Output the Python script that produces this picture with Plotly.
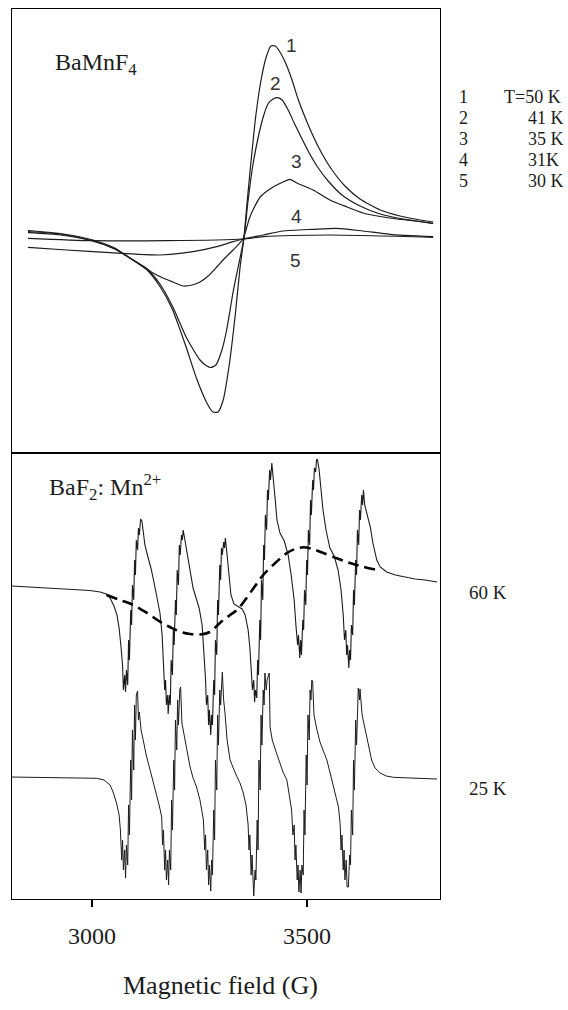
import plotly.graph_objects as go

# ---------------- Top panel: BaMnF4 ESR derivative spectra (arb. units) ----------------
field_50K = [2851, 2926, 3002, 3053, 3088, 3128, 3158, 3186, 3216, 3244, 3267, 3281, 3293, 3305, 3319,
             3333, 3344, 3353, 3360, 3370, 3381, 3393, 3405, 3416, 3426, 3437, 3451, 3465, 3479, 3495,
             3514, 3535, 3558, 3588, 3623, 3670, 3716, 3763, 3793]
sig_50K = [8, 5, -1.5, -9.5, -19.5, -31.5, -48, -70, -105, -141, -164.5, -173.5, -173.5, -161.5, -126.5,
           -76.5, -29.5, 0, 33.5, 78.5, 123.5, 158.5, 181.5, 192.5, 192.5, 186.5, 174.5, 158.5, 139.5, 121.5,
           102.5, 84.5, 68.5, 52.5, 39.5, 28.5, 22.5, 18.5, 16.5]

field_41K = [2851, 2926, 3002, 3053, 3088, 3128, 3158, 3188, 3220, 3251, 3267, 3276, 3288, 3302, 3313,
             3321, 3328, 3340, 3353, 3363, 3374, 3386, 3398, 3409, 3421, 3432, 3442, 3456, 3470, 3486,
             3505, 3526, 3549, 3581, 3623, 3670, 3716, 3763, 3793]
sig_41K = [5.8, 3.5, -2.5, -10.5, -19.5, -30.5, -45.5, -68.5, -99.5, -121.5, -127.5, -129, -126.5, -111.5, -91.5,
           -71.5, -53.5, -28, 0, 38.5, 73.5, 100.5, 121.5, 134.5, 139.5, 140.8, 138.5, 128.5, 115.5, 101.5,
           85.5, 70.5, 57.5, 43.5, 32.5, 24.5, 20, 17, 15]

field_35K = [2851, 2926, 3002, 3053, 3088, 3128, 3142, 3165, 3188, 3212, 3233, 3251, 3270, 3290, 3309,
             3328, 3351, 3367, 3391, 3421, 3444, 3460, 3476, 3514, 3553, 3593, 3630, 3670, 3709, 3751, 3793]
sig_35K = [7, 4.5, -2.5, -10.5, -19.5, -30.5, -34.5, -39.5, -43.5, -47.5, -46.5, -43.5, -37.5, -28.5, -19.5,
           -11.5, -0.5, 21.5, 41.5, 51.5, 56.5, 59.2, 55.5, 48.5, 38.5, 31.5, 25.5, 22, 19.5, 17.5, 15.2]

field_31K = [2851, 2941, 3042, 3158, 3235, 3290, 3328, 3351, 3398, 3444, 3514, 3569, 3630, 3693, 3793]
sig_31K = [-8.8, -11.5, -14.2, -16.5, -13.2, -8.2, -3.2, -0.5, 3.5, 7.5, 9.2, 10.2, 7.5, 4.2, 1.8]

field_30K = [2851, 3002, 3174, 3351, 3398, 3553, 3793]
sig_30K = [0.2, -2.2, -2.2, -0.5, 1.8, 3.5, 1.2]

curve_ids = ["1", "2", "3", "4", "5"]
curve_temps = ["T=50 K", "41 K", "35 K", "31K", "30 K"]
curve_label_field = [3464, 3426, 3476, 3476, 3474]
curve_label_sig = [193.5, 155.5, 76.8, 21.8, -21.5]

# ---------------- Bottom panel: BaF2:Mn2+ spectra (arb. units, offset) ----------------
field_60K = [2814, 2856, 2902, 2949, 2995, 3019, 3033, 3042, 3051, 3058, 3063, 3067, 3071, 3073, 3076, 3078,
             3080, 3083, 3085, 3087, 3090, 3092, 3094, 3097, 3099, 3101, 3103, 3106, 3108, 3110, 3113, 3116,
             3119, 3123, 3130, 3137, 3144, 3151, 3158, 3163, 3166, 3169, 3171, 3173, 3176, 3177, 3180, 3182,
             3184, 3187, 3189, 3191, 3194, 3196, 3198, 3201, 3203, 3205, 3208, 3210, 3212, 3216, 3221, 3228,
             3235, 3242, 3249, 3256, 3260, 3264, 3266, 3269, 3271, 3273, 3276, 3278, 3280, 3283, 3285, 3287,
             3290, 3292, 3294, 3297, 3299, 3301, 3303, 3306, 3308, 3310, 3314, 3319, 3323, 3330, 3340, 3349,
             3356, 3363, 3367, 3371, 3373, 3376, 3378, 3380, 3383, 3385, 3387, 3390, 3392, 3394, 3397, 3399,
             3401, 3403, 3406, 3408, 3410, 3413, 3415, 3418, 3421, 3426, 3430, 3437, 3447, 3456, 3463, 3470,
             3474, 3478, 3480, 3483, 3485, 3487, 3490, 3492, 3494, 3497, 3499, 3501, 3503, 3506, 3508, 3510,
             3513, 3515, 3517, 3520, 3522, 3524, 3528, 3533, 3537, 3544, 3553, 3563, 3572, 3579, 3584, 3587,
             3590, 3592, 3594, 3597, 3599, 3601, 3603, 3606, 3608, 3610, 3613, 3615, 3617, 3620, 3622, 3624,
             3627, 3629, 3631, 3634, 3637, 3642, 3647, 3653, 3662, 3670, 3685, 3705, 3728, 3751, 3774, 3802]
sig_60K = [314, 313, 312, 310.5, 309.5, 308, 306, 302, 294, 285, 272, 255, 235, 210, 225, 208,
           230, 215, 260, 240, 290, 275, 315, 300, 340, 325, 360, 350, 372, 365, 381, 379,
           368, 355, 343, 332, 318, 304, 287, 265, 240, 210, 220, 195, 205, 186, 205, 195,
           240, 225, 270, 255, 300, 285, 330, 315, 355, 345, 365, 360, 370, 360, 344, 327,
           312, 302, 292, 275, 250, 220, 195, 205, 175, 190, 165, 185, 175, 220, 205, 260,
           245, 300, 285, 335, 320, 352, 345, 358, 352, 362, 345, 325, 305, 296, 293, 291,
           285, 270, 252, 230, 210, 220, 198, 210, 202, 240, 225, 280, 260, 320, 300, 355,
           340, 385, 370, 410, 400, 430, 420, 437, 420, 400, 380, 367, 359, 345, 325, 300,
           275, 255, 265, 242, 260, 245, 280, 270, 310, 295, 340, 325, 370, 355, 400, 385,
           420, 410, 432, 428, 440, 441, 430, 410, 390, 370, 352, 344, 330, 310, 285, 260,
           270, 245, 255, 232, 250, 240, 275, 265, 310, 295, 340, 325, 370, 355, 390, 380,
           405, 395, 410, 395, 390, 382, 373, 357, 340, 333, 328, 325, 323, 321, 320, 318]

field_60K_broad = [3034, 3065, 3096, 3128, 3158, 3181, 3205, 3228, 3251, 3274, 3298, 3321, 3337, 3356,
                   3379, 3398, 3426, 3453, 3472, 3491, 3512, 3530, 3569, 3600, 3623, 3662]
sig_60K_broad = [305, 300, 295, 287, 278.3, 273, 268.3, 266, 265.5, 268, 277.3, 285, 290, 300,
                 314, 325, 337, 347, 351, 352.7, 351, 348.3, 341.7, 337, 334, 330]

field_25K = [2809, 2902, 3011, 3028, 3042, 3049, 3057, 3063, 3066, 3069, 3071, 3073, 3076, 3078, 3080, 3083,
             3085, 3087, 3090, 3092, 3094, 3097, 3099, 3101, 3103, 3106, 3108, 3110, 3114, 3119, 3126, 3135,
             3142, 3150, 3156, 3162, 3164, 3166, 3169, 3171, 3173, 3176, 3178, 3180, 3183, 3185, 3187, 3190,
             3192, 3194, 3197, 3199, 3201, 3204, 3206, 3209, 3212, 3219, 3228, 3235, 3243, 3251, 3259, 3262,
             3264, 3266, 3269, 3271, 3273, 3276, 3278, 3280, 3283, 3285, 3287, 3290, 3292, 3294, 3297, 3299,
             3301, 3303, 3306, 3309, 3314, 3321, 3333, 3344, 3351, 3358, 3363, 3365, 3367, 3370, 3372, 3374,
             3376, 3379, 3381, 3384, 3386, 3388, 3391, 3393, 3395, 3398, 3400, 3402, 3405, 3407, 3412, 3414,
             3419, 3428, 3437, 3444, 3453, 3458, 3464, 3467, 3470, 3472, 3474, 3477, 3479, 3481, 3484, 3486,
             3488, 3491, 3493, 3495, 3498, 3500, 3502, 3505, 3507, 3509, 3511, 3513, 3516, 3523, 3530, 3537,
             3546, 3553, 3561, 3567, 3573, 3577, 3579, 3581, 3584, 3586, 3588, 3591, 3593, 3596, 3599, 3601,
             3603, 3606, 3608, 3610, 3613, 3615, 3617, 3619, 3622, 3623, 3628, 3635, 3642, 3650, 3658, 3670,
             3684, 3701, 3740, 3802]
sig_25K = [123, 122.5, 121.7, 120, 115, 108, 97, 85, 70, 40, 60, 30, 50, 22, 55, 35,
           95, 65, 140, 100, 170, 130, 195, 160, 205, 209, 180, 188, 170, 160, 145, 130,
           118, 107, 95, 83, 55, 70, 30, 50, 20, 40, 15, 50, 30, 100, 70, 140,
           110, 180, 150, 200, 175, 210, 213, 177, 170, 152, 133, 122, 113, 100, 80, 50,
           65, 30, 50, 15, 35, 9, 40, 25, 90, 60, 140, 110, 185, 155, 210, 195,
           220, 228, 200, 188, 160, 140, 127, 117, 108, 95, 75, 50, 65, 25, 45, 10,
           4, 30, 20, 80, 50, 140, 110, 185, 155, 210, 195, 227, 210, 220, 227, 173,
           160, 148, 137, 128, 120, 105, 90, 65, 75, 40, 55, 20, 35, 8, 30, 7,
           35, 25, 90, 65, 145, 115, 185, 160, 210, 200, 220, 218, 185, 170, 158, 150,
           140, 128, 113, 103, 93, 75, 50, 65, 30, 50, 20, 40, 13, 13, 45, 35,
           90, 65, 140, 110, 180, 155, 205, 212, 200, 211, 185, 170, 155, 140, 132, 127,
           124, 122.7, 122, 121]

spectrum_labels = ["60 K", "25 K"]
spectrum_label_level = [592, 788]  # vertical page position of the side labels (px)

field_ticks = [3000, 3500]

# ---------------- Figure ----------------
W, H = 568, 1010
INK = "#1c1c1c"
SERIF = "Liberation Serif, Times New Roman, serif"
SANS = "Liberation Sans, Arial, sans-serif"

fig = go.Figure()

top_series = [(field_50K, sig_50K), (field_41K, sig_41K), (field_35K, sig_35K),
              (field_31K, sig_31K), (field_30K, sig_30K)]
for fx, fy in top_series:
    fig.add_trace(go.Scatter(x=fx, y=fy, mode="lines", xaxis="x", yaxis="y",
                             line=dict(color=INK, width=1.2, shape="spline", smoothing=0.6),
                             showlegend=False, hoverinfo="skip"))

fig.add_trace(go.Scatter(x=field_60K, y=sig_60K, mode="lines", xaxis="x2", yaxis="y2",
                         line=dict(color=INK, width=1.1), showlegend=False, hoverinfo="skip"))
fig.add_trace(go.Scatter(x=field_60K_broad, y=sig_60K_broad, mode="lines", xaxis="x2", yaxis="y2",
                         line=dict(color="black", width=2.6, dash="11px,6px", shape="spline"),
                         showlegend=False, hoverinfo="skip"))
fig.add_trace(go.Scatter(x=field_25K, y=sig_25K, mode="lines", xaxis="x2", yaxis="y2",
                         line=dict(color=INK, width=1.0), showlegend=False, hoverinfo="skip"))

xdom = [12 / W, 440 / W]
top_dom = [1 - 453 / H, 1 - 9 / H]
bot_dom = [1 - 899 / H, 1 - 453 / H]
xrange_ = [2814, 3809]

frame = dict(showline=True, mirror=True, linecolor="black", linewidth=1.2,
             showgrid=False, zeroline=False)

fig.update_layout(
    width=W, height=H,
    margin=dict(l=0, r=0, t=0, b=0),
    paper_bgcolor="white", plot_bgcolor="white",
    xaxis=dict(domain=xdom, range=xrange_, anchor="y", showticklabels=False, ticks="", **frame),
    yaxis=dict(domain=top_dom, range=[-214.5, 229.5], anchor="x", showticklabels=False, ticks="", **frame),
    xaxis2=dict(domain=xdom, range=xrange_, anchor="y2", tickvals=field_ticks,
                ticktext=[str(t) for t in field_ticks], ticks="outside", ticklen=7, tickwidth=1.2,
                tickcolor="black", ticklabelstandoff=8,
                tickfont=dict(family=SERIF, size=24, color=INK), **frame),
    yaxis2=dict(domain=bot_dom, range=[1, 447], anchor="x2", showticklabels=False, ticks="", **frame),
)

ann = []
# curve numbers inside top panel
for cid, gx, gy in zip(curve_ids, curve_label_field, curve_label_sig):
    ann.append(dict(x=gx, y=gy, xref="x", yref="y", text=cid, showarrow=False,
                    font=dict(family=SANS, size=19, color="#333")))
# panel titles
ann.append(dict(x=53 / W, y=1 - 64 / H, xref="paper", yref="paper", xanchor="left", yanchor="middle",
                text="BaMnF<sub>4</sub>", showarrow=False, font=dict(family=SERIF, size=24, color=INK)))
ann.append(dict(x=47 / W, y=1 - 487 / H, xref="paper", yref="paper", xanchor="left", yanchor="middle",
                text="BaF<sub>2</sub>: Mn<sup>2+</sup>", showarrow=False,
                font=dict(family=SERIF, size=24, color=INK)))
# temperature key
for i, (cid, t) in enumerate(zip(curve_ids, curve_temps)):
    yy = 1 - (97 + 21 * i) / H
    ann.append(dict(x=463 / W, y=yy, xref="paper", yref="paper", xanchor="center", yanchor="middle",
                    text=cid, showarrow=False, font=dict(family=SERIF, size=18, color=INK)))
    if i == 0:
        ann.append(dict(x=563 / W, y=yy, xref="paper", yref="paper", xanchor="right", yanchor="middle",
                        text=t, showarrow=False, font=dict(family=SERIF, size=18, color=INK)))
    else:
        ann.append(dict(x=526 / W, y=yy, xref="paper", yref="paper", xanchor="left", yanchor="middle",
                        text=t, showarrow=False, font=dict(family=SERIF, size=18, color=INK)))
# spectrum temperature labels
for lab, py in zip(spectrum_labels, spectrum_label_level):
    ann.append(dict(x=467 / W, y=1 - py / H, xref="paper", yref="paper", xanchor="left", yanchor="middle",
                    text=lab, showarrow=False, font=dict(family=SERIF, size=19, color=INK)))
# axis title
ann.append(dict(x=220 / W, y=1 - 985 / H, xref="paper", yref="paper", xanchor="center", yanchor="middle",
                text="Magnetic field (G)", showarrow=False, font=dict(family=SERIF, size=26, color=INK)))

fig.update_layout(annotations=ann)
fig.write_html("out.html", config={"displayModeBar": False, "staticPlot": True},
               post_script="document.body.style.margin='0px';")
